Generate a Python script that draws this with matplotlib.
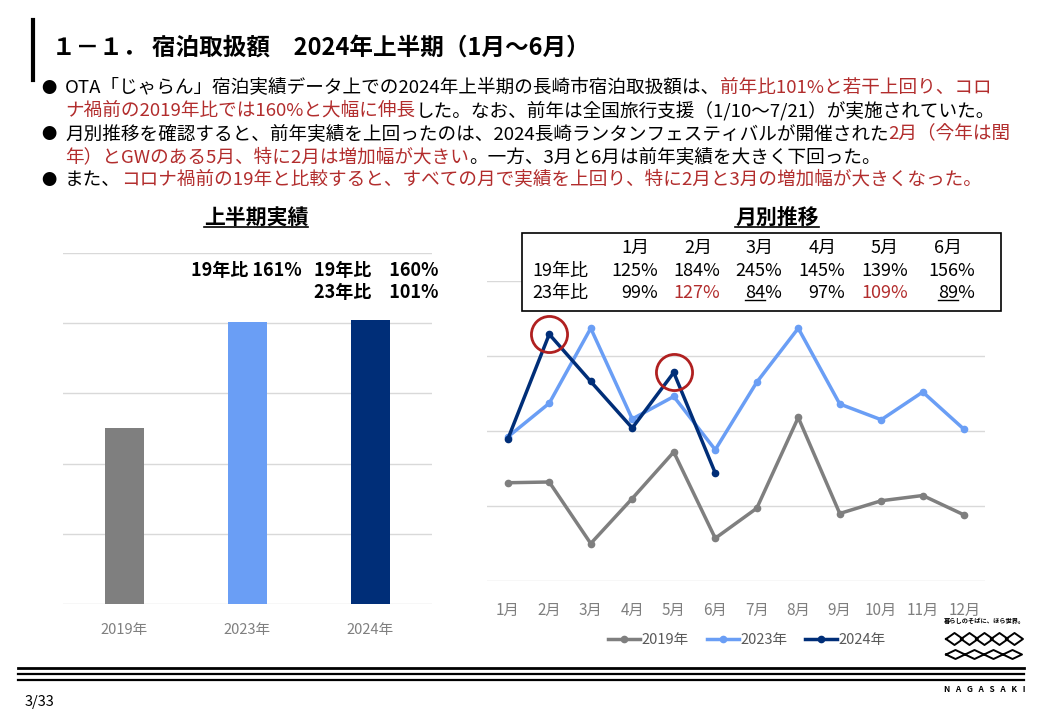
import numpy as np
import matplotlib
matplotlib.use("Agg")
import matplotlib.pyplot as plt
from matplotlib.lines import Line2D

plt.rcParams['font.family'] = ['Noto Sans CJK JP', 'DejaVu Sans']

W, H = 1040, 720

# ---- data ----
bar_years = ['2019年', '2023年', '2024年']
bar_values = [2.51, 4.02, 4.04]

months = ['1月', '2月', '3月', '4月', '5月', '6月', '7月', '8月', '9月', '10月', '11月', '12月']
v2019 = [2.31, 2.32, 1.50, 2.10, 2.72, 1.57, 1.97, 3.18, 1.90, 2.07, 2.14, 1.88]
v2023 = [2.92, 3.37, 4.37, 3.16, 3.46, 2.75, 3.65, 4.37, 3.36, 3.15, 3.52, 3.02]
v2024 = [2.89, 4.29, 3.66, 3.04, 3.78, 2.44]
circled = [1, 4]

tbl_months = ['1月', '2月', '3月', '4月', '5月', '6月']
tbl_19 = ['125%', '184%', '245%', '145%', '139%', '156%']
tbl_23 = ['99%', '127%', '84%', '97%', '109%', '89%']
tbl_23_style = ['', 'red', 'under', '', 'red', 'under']

# (has bullet, [(text, colour)])
bullets = [
    (True, [("OTA「じゃらん」宿泊実績データ上での2024年上半期の長崎市宿泊取扱額は、", 'k'),
            ("前年比101%と若干上回り、コロ", 'r')]),
    (False, [("ナ禍前の2019年比では160%と大幅に伸長", 'r'),
             ("した。なお、前年は全国旅行支援（1/10～7/21）が実施されていた。", 'k')]),
    (True, [("月別推移を確認すると、前年実績を上回ったのは、2024長崎ランタンフェスティバルが開催された", 'k'),
            ("2月（今年は閏", 'r')]),
    (False, [("年）とGWのある5月、特に2月は増加幅が大きい", 'r'),
             ("。一方、3月と6月は前年実績を大きく下回った。", 'k')]),
    (True, [("また、", 'k'),
            ("コロナ禍前の19年と比較すると、すべての月で実績を上回り、特に2月と3月の増加幅が大きくなった。", 'r')]),
]

RED = '#B22D2D'
C19, C23, C24 = '#7F7F7F', '#6A9EF5', '#002E78'
GRID = '#D9D9D9'
TICK = '#7F7F7F'


def fx(x):
    return x / W


def fy(y):
    return 1 - y / H


fig = plt.figure(figsize=(W / 100, H / 100), dpi=100)
bg = fig.add_axes([0, 0, 1, 1], zorder=-5)
bg.set_xlim(0, 1)
bg.set_ylim(0, 1)
bg.axis('off')

# title and side bar
fig.add_artist(Line2D([fx(33), fx(33)], [fy(20), fy(80)], color='k', lw=3))
fig.text(fx(52), fy(48), "１－１． 宿泊取扱額　2024年上半期（1月～6月）",
         fontsize=17, fontweight='bold', va='center', ha='left')

# bullet text, pieces chained left to right
line_y = [88, 111, 134, 157, 180]
FS = 13.4
for i, (has_bullet, pieces) in enumerate(bullets):
    if has_bullet:
        bg.text(fx(41), fy(line_y[i]), "●", fontsize=11, va='center', ha='left')
    prev = None
    for s, c in pieces:
        col = RED if c == 'r' else 'k'
        if prev is None:
            prev = bg.text(fx(65), fy(line_y[i]), s, fontsize=FS, color=col,
                           va='center', ha='left')
        else:
            prev = bg.annotate(s, xy=(1, 0), xycoords=prev, fontsize=FS, color=col,
                               va='bottom', ha='left')

# ---- bar chart ----
axb = fig.add_axes([fx(63), fy(604), fx(432) - fx(63), fy(253) - fy(604)])
axb.bar(range(3), bar_values, width=0.31, color=[C19, C23, C24], zorder=3)
axb.set_ylim(0, 5)
axb.set_xlim(-0.5, 2.5)
axb.set_yticks(np.arange(0, 6, 1))
axb.yaxis.grid(True, color=GRID, lw=1)
axb.set_yticklabels([])
axb.tick_params(length=0)
axb.set_xticks(range(3))
axb.set_xticklabels(bar_years, color=TICK, fontsize=10.5)
axb.tick_params(axis='x', pad=14)
for sp in axb.spines.values():
    sp.set_visible(False)

t_bar = fig.text(fx(256), fy(217), "上半期実績", fontsize=15, fontweight='bold',
                 ha='center', va='center')
fig.text(fx(246), fy(271), "19年比 161%", fontsize=13, fontweight='bold',
         ha='center', va='center')
fig.text(fx(439), fy(271), "19年比　160%", fontsize=13, fontweight='bold',
         ha='right', va='center')
fig.text(fx(439), fy(293), "23年比　101%", fontsize=13, fontweight='bold',
         ha='right', va='center')

# ---- line chart ----
axl = fig.add_axes([fx(487), fy(581), fx(985) - fx(487), fy(281) - fy(581)])
x12 = np.arange(12)
axl.plot(x12, v2019, color=C19, lw=2.5, marker='o', ms=4.5, label='2019年', zorder=3)
axl.plot(x12, v2023, color=C23, lw=2.5, marker='o', ms=4.5, label='2023年', zorder=3)
axl.plot(x12[:len(v2024)], v2024, color=C24, lw=2.5, marker='o', ms=4.5,
         label='2024年', zorder=4)
axl.plot(x12[circled], np.array(v2024)[circled], ls='none', marker='o', ms=26,
         mfc='none', mec='#B02020', mew=2, zorder=5)
axl.set_xlim(-0.5, 11.5)
axl.set_ylim(1, 5)
axl.set_yticks(np.arange(1, 6, 1))
axl.yaxis.grid(True, color=GRID, lw=1)
axl.set_yticklabels([])
axl.set_xticks(x12)
axl.set_xticklabels(months, color=TICK, fontsize=11)
axl.tick_params(length=0)
axl.tick_params(axis='x', pad=15)
for sp in axl.spines.values():
    sp.set_visible(False)
leg = axl.legend(loc='center', bbox_to_anchor=(fx(747), fy(640)),
                 bbox_transform=fig.transFigure, ncol=3, frameon=False,
                 fontsize=10.5, handlelength=2.2, columnspacing=1.2, handletextpad=0.1)
for t in leg.get_texts():
    t.set_color('#595959')

t_line = fig.text(fx(777), fy(217), "月別推移", fontsize=15, fontweight='bold',
                  ha='center', va='center')

# table box
fig.add_artist(plt.Rectangle((fx(522), fy(311)), fx(1001) - fx(522), fy(233) - fy(311),
                             transform=fig.transFigure, facecolor='white',
                             edgecolor='k', lw=1.2, zorder=10))
hdr_x = [635, 698, 760, 823, 885, 948]
val_right = [658, 720, 782, 845, 908, 975]
TFS = 13
fig.text(fx(532), fy(271), "19年比", fontsize=TFS, va='center', zorder=11)
fig.text(fx(532), fy(293), "23年比", fontsize=TFS, va='center', zorder=11)
under_texts = []
for j in range(6):
    fig.text(fx(hdr_x[j]), fy(248), tbl_months[j], fontsize=TFS, ha='center', va='center', zorder=11)
    fig.text(fx(val_right[j]), fy(271), tbl_19[j], fontsize=TFS, ha='right', va='center', zorder=11)
    col = RED if tbl_23_style[j] == 'red' else 'k'
    t = fig.text(fx(val_right[j]), fy(293), tbl_23[j], fontsize=TFS, ha='right',
                 va='center', color=col, zorder=11)
    if tbl_23_style[j] == 'under':
        under_texts.append(t)

# bottom rules and page number
for y, lw in [(668, 2.0), (674, 1.6), (680, 1.6)]:
    fig.add_artist(Line2D([fx(18), fx(1024)], [fy(y), fy(y)], color='k', lw=lw))
fig.text(fx(25), fy(702), "3/33", fontsize=10.5, va='center')

# logo
fig.text(fx(984), fy(621), "暮らしのそばに、ほら世界。", fontsize=4.5, fontweight='bold',
         ha='center', va='center')
for k in range(5):
    cx = 954.5 + k * 15
    fig.add_artist(Line2D([fx(cx - 8.5), fx(cx), fx(cx + 8.5), fx(cx), fx(cx - 8.5)],
                          [fy(639), fy(633), fy(639), fy(645), fy(639)], color='k', lw=1.4))
for k in range(4):
    cx = 955.5 + k * 19
    fig.add_artist(Line2D([fx(cx - 9.5), fx(cx), fx(cx + 9.5), fx(cx), fx(cx - 9.5)],
                          [fy(654.5), fy(650), fy(654.5), fy(659), fy(654.5)], color='k', lw=1.4))
fig.text(fx(985), fy(690), "N   A   G   A   S   A   K   I", fontsize=6, fontweight='bold',
         ha='center', va='center')

# underlines that need the drawn text extents
fig.canvas.draw()
r = fig.canvas.get_renderer()
for t in [t_bar, t_line]:
    bb = t.get_window_extent(r)
    fig.add_artist(Line2D([bb.x0 / W, bb.x1 / W], [bb.y0 / H + 0.001, bb.y0 / H + 0.001],
                          color='k', lw=1.2))
tmp = fig.text(0, 0, "%", fontsize=TFS)
pw = tmp.get_window_extent(r).width
tmp.remove()
for t in under_texts:
    bb = t.get_window_extent(r)
    yy = bb.y0 / H + 0.003
    fig.add_artist(Line2D([bb.x0 / W, (bb.x1 - pw) / W], [yy, yy], color='k', lw=1, zorder=12))

fig.savefig("out.png", dpi=100)
